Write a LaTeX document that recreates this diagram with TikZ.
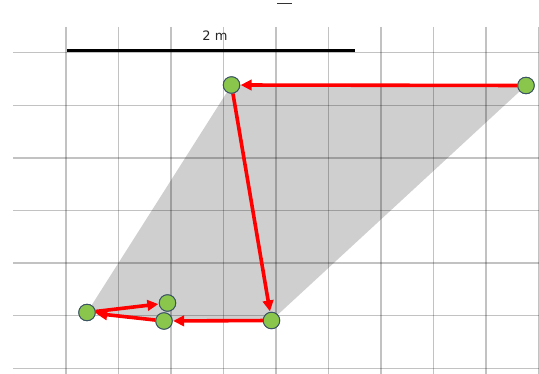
\documentclass[tikz,border=0pt]{standalone}
\usepackage{fontspec}
\setmainfont{DejaVu Sans}
\usetikzlibrary{arrows.meta}
\definecolor{ptgreen}{RGB}{139,198,76}
\definecolor{ptborder}{RGB}{60,85,100}
\tikzset{
  pt/.style={circle,fill=ptgreen,draw=ptborder,line width=0.9pt,minimum size=16.5pt,inner sep=0pt},
  move/.style={draw=red,line width=3.6pt,-{Triangle[length=11pt,width=10.5pt]},shorten >=0.5pt},
  gridline/.style={draw=black,draw opacity=0.24,line width=1.3pt},
}
\begin{document}
\begin{tikzpicture}[x=1pt,y=-1pt]
\useasboundingbox (0,0) rectangle (539,374);
% nodes positions
\coordinate (pA) at (231.5,85);
\coordinate (pB) at (526,85.5);
\coordinate (pC) at (271.5,320.5);
\coordinate (pD) at (164,321);
\coordinate (pE) at (167.5,303);
\coordinate (pF) at (87,312.5);
% hull
\fill[gray!38] (pA) -- (pB) -- (pC) -- (pD) -- (pF) -- cycle;
% grid
\foreach \k in {0,...,6} \draw[gridline] (13,52.7+52.6*\k) -- (539,52.7+52.6*\k);
\foreach \k in {0,...,9} \draw[gridline] (66+52.5*\k,27) -- (66+52.5*\k,374);
% scale bar
\draw[line width=3pt,black] (67,50.5) -- (355,50.5);
\node[font=\fontsize{13}{15}\selectfont,text=black!85] (lbl) at (215,36) {2 m};
\draw[line width=1.2pt,black!80] (277,3.3) -- (292,3.3);
% points
\node[pt] (A) at (pA) {};
\node[pt] (B) at (pB) {};
\node[pt] (C) at (pC) {};
\node[pt] (D) at (pD) {};
\node[pt] (E) at (pE) {};
\node[pt] (F) at (pF) {};
% moves
\draw[move] (B) -- (A);
\draw[move] (A) -- (C);
\draw[move] (C) -- (D);
\draw[move] (D) -- (F);
\draw[move] (F) -- (E);
% redraw nodes on top
\node[pt] at (pA) {};
\node[pt] at (pB) {};
\node[pt] at (pC) {};
\node[pt] at (pD) {};
\node[pt] at (pE) {};
\node[pt] at (pF) {};
\end{tikzpicture}
\end{document}
